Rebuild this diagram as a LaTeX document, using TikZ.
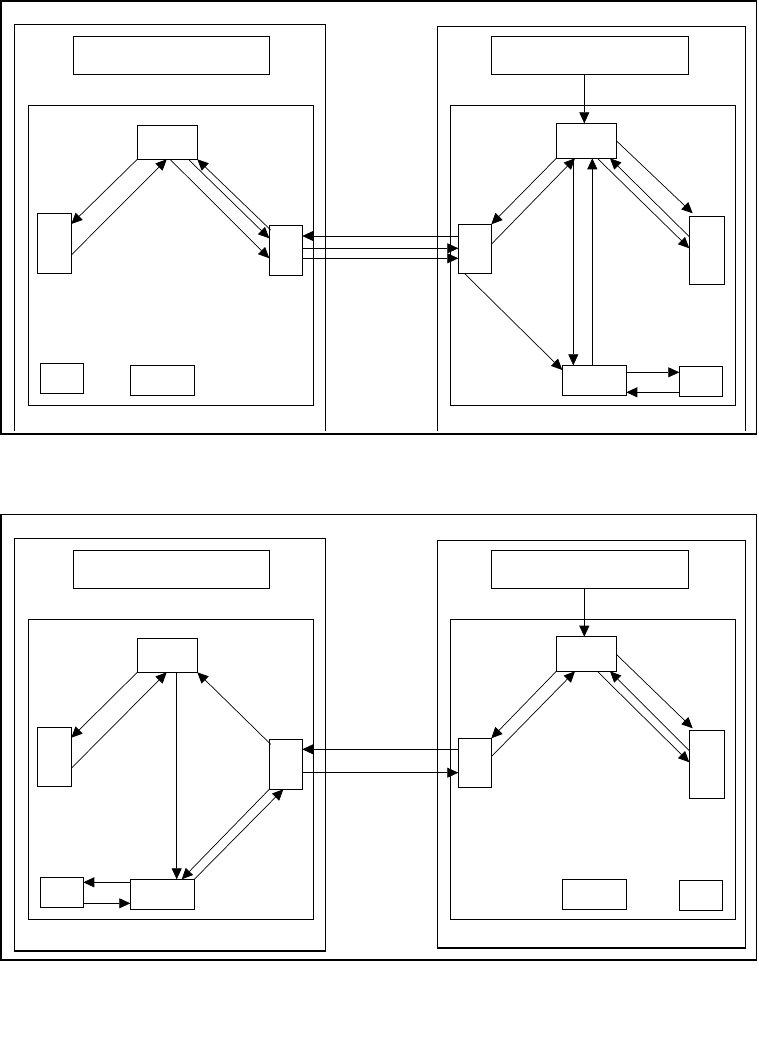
\documentclass[tikz,border=0pt]{standalone}
\usetikzlibrary{arrows.meta}
\begin{document}
\begin{tikzpicture}[x=1pt,y=-1pt,
  frame/.style={draw,line width=1.1pt},
  box/.style={draw,line width=1.1pt,inner sep=0pt,outer sep=0pt,anchor=north west},
  arr/.style={line width=0.7pt,-{Triangle[length=11pt,width=10pt]}},
  ln/.style={line width=0.7pt}]
\useasboundingbox (0,0) rectangle (759,1062);
% ================= TOP DIAGRAM =================
\draw[frame] (1,1) rectangle (756.7,434);
\draw[frame] (14.3,430.7) -- (14.3,24.3) -- (325.3,24.3) -- (325.3,430.7);
\draw[frame] (437.3,430.7) -- (437.3,26.3) -- (745.7,26.3) -- (745.7,430.7);
% left panel
\node[box,minimum width=196pt,minimum height=38pt] (T1) at (73.3,36.3) {};
\node[box,minimum width=285pt,minimum height=300pt] (I1) at (28.3,105.3) {};
\node[box,minimum width=60pt,minimum height=34pt] (A) at (137.3,125.3) {};
\node[box,minimum width=34pt,minimum height=60pt] (B) at (37.3,213.3) {};
\node[box,minimum width=33pt,minimum height=50pt] (C) at (269.3,225.3) {};
\node[box,minimum width=43pt,minimum height=30pt] (S1) at (40.3,363.3) {};
\node[box,minimum width=64pt,minimum height=30pt] (S2) at (130.3,365.3) {};
% right panel
\node[box,minimum width=197pt,minimum height=38pt] (T2) at (491.3,36.3) {};
\node[box,minimum width=285pt,minimum height=300pt] (I2) at (450.3,105.3) {};
\node[box,minimum width=60pt,minimum height=35pt] (E) at (556.3,123.3) {};
\node[box,minimum width=33pt,minimum height=49pt] (D) at (458.3,224.3) {};
\node[box,minimum width=35pt,minimum height=68pt] (F) at (689.3,216.3) {};
\node[box,minimum width=64pt,minimum height=30pt] (G) at (562.3,365.3) {};
\node[box,minimum width=43pt,minimum height=30pt] (H) at (679.3,366.3) {};
% arrows left
\draw[arr] (A.south west) -- ([yshift=-10.7pt]B.north east);
\draw[arr] ([yshift=-41.7pt]B.north east) -- ([xshift=29.4pt]A.south west);
\draw[arr] ([xshift=32.7pt]A.south west) -- ([yshift=-33pt]C.north west);
\draw[arr] ([xshift=51pt]A.south west) -- ([yshift=-13pt]C.north west);
\draw[arr] ([xshift=1.4pt,yshift=-4.7pt]C.north west) -- (A.south east);
% links between panels
\draw[arr] ([yshift=-11.7pt]D.north west) -- ([yshift=-10.7pt]C.north east);
\draw[arr] ([yshift=-23pt]C.north east) -- ([yshift=-24pt]D.north west);
\draw[arr] ([yshift=-33pt]C.north east) -- ([yshift=-34pt]D.north west);
% arrows right
\coordinate (et) at ([xshift=-2pt]E.north);
\draw[arr] (et |- T2.south) -- (et);
\draw[arr] (E.south west) -- (D.north east);
\draw[arr] ([yshift=-20pt]D.north east) -- ([xshift=18.7pt]E.south west);
\draw[arr] ([xshift=17pt]E.south west) -- ([xshift=11pt]G.north west);
\draw[arr] ([xshift=30pt]G.north west) -- ([xshift=36pt]E.south west);
\draw[arr] ([yshift=-17.4pt]E.north east) -- ([xshift=3.4pt,yshift=3pt]F.north west);
\draw[arr] ([xshift=41pt]E.south west) -- ([yshift=-32pt]F.north west);
\draw[arr] ([yshift=-20.4pt]F.north west) -- ([xshift=53.7pt]E.south west);
\draw[arr] ([xshift=6pt]D.south west) -- ([yshift=-4.7pt]G.north west);
\draw[arr] ([yshift=-7pt]G.north east) -- ([yshift=-6pt]H.north west);
\draw[arr] ([yshift=-26pt]H.north west) -- ([yshift=-27pt]G.north east);
% ================= BOTTOM DIAGRAM =================
\draw[frame] (1,514.3) rectangle (756.7,960);
\draw[frame] (14.3,538.3) rectangle (325.3,951);
\draw[frame] (437.3,540.3) rectangle (745.7,948);
% left panel
\node[box,minimum width=196pt,minimum height=38pt] (T3) at (73.3,550.3) {};
\node[box,minimum width=285pt,minimum height=300pt] (I3) at (28.3,619.3) {};
\node[box,minimum width=60pt,minimum height=34pt] (A2) at (137.3,638.3) {};
\node[box,minimum width=34pt,minimum height=59pt] (B2) at (37.3,727.3) {};
\node[box,minimum width=33pt,minimum height=50pt] (C2) at (269.3,739.3) {};
\node[box,minimum width=43pt,minimum height=30pt] (S3) at (40.3,877.3) {};
\node[box,minimum width=64pt,minimum height=30pt] (G2) at (130.3,879.3) {};
% right panel
\node[box,minimum width=197pt,minimum height=38pt] (T4) at (491.3,550.3) {};
\node[box,minimum width=285pt,minimum height=300pt] (I4) at (450.3,619.3) {};
\node[box,minimum width=60pt,minimum height=34.6pt] (E2) at (556.3,636.7) {};
\node[box,minimum width=33pt,minimum height=49pt] (D2) at (458.3,738.3) {};
\node[box,minimum width=35pt,minimum height=68pt] (F2) at (689.3,730.3) {};
\node[box,minimum width=64pt,minimum height=30pt] (P2) at (562.3,879.3) {};
\node[box,minimum width=43pt,minimum height=30pt] (Q2) at (679.3,880.3) {};
% arrows left
\draw[arr] (A2.south west) -- ([yshift=-10.4pt]B2.north east);
\draw[arr] ([yshift=-41pt]B2.north east) -- ([xshift=29.4pt]A2.south west);
\draw[arr] ([xshift=39.4pt]A2.south west) -- ([xshift=46.4pt]G2.north west);
\draw[arr] ([xshift=1.4pt,yshift=-5pt]C2.north west) -- (A2.south east);
\draw[arr] (C2.south west) -- ([xshift=51.4pt]G2.north west);
\draw[arr] (G2.north east) -- ([xshift=14pt]C2.south west);
\draw[arr] ([yshift=-3pt]G2.north west) -- ([yshift=-5pt]S3.north east);
\draw[arr] ([yshift=-26pt]S3.north east) -- ([yshift=-24pt]G2.north west);
% links between panels
\draw[arr] ([yshift=-11pt]D2.north west) -- ([yshift=-10pt]C2.north east);
\draw[arr] ([yshift=-33.4pt]C2.north east) -- ([yshift=-34.4pt]D2.north west);
% arrows right
\coordinate (et2) at ([xshift=-2pt]E2.north);
\draw[arr] (et2 |- T4.south) -- (et2);
\draw[arr] (E2.south west) -- (D2.north east);
\draw[arr] ([yshift=-18.4pt]D2.north east) -- ([xshift=18.7pt]E2.south west);
\draw[arr] ([yshift=-17.6pt]E2.north east) -- ([xshift=3.4pt,yshift=2pt]F2.north west);
\draw[arr] ([xshift=41pt]E2.south west) -- ([yshift=-32pt]F2.north west);
\draw[arr] ([yshift=-20.4pt]F2.north west) -- ([xshift=53.7pt]E2.south west);
\end{tikzpicture}
\end{document}
